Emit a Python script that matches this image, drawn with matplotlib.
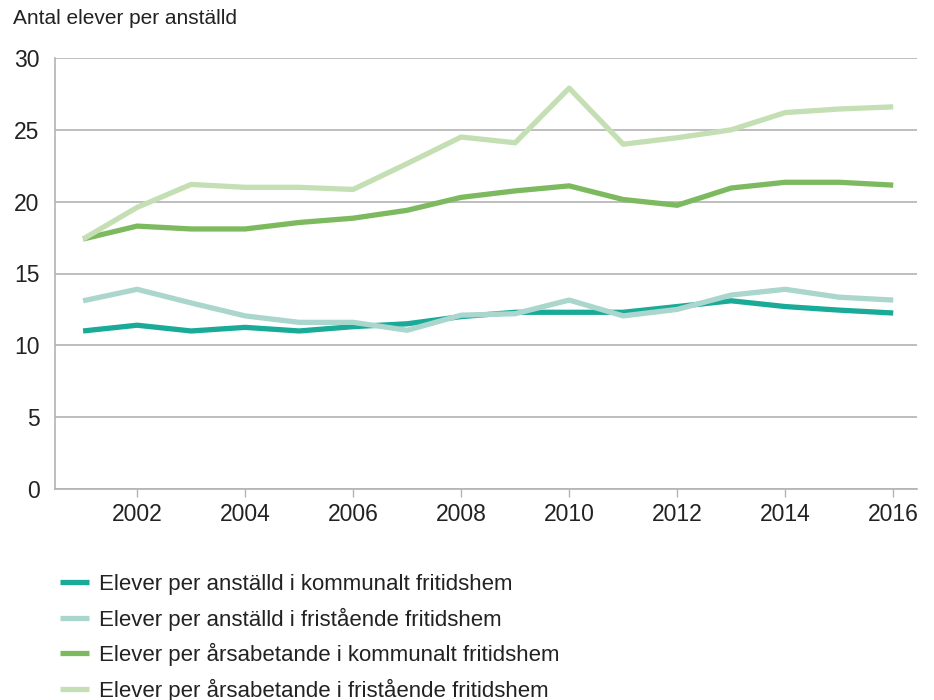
import matplotlib
matplotlib.use("Agg")
import matplotlib.pyplot as plt

plt.rcParams['font.family'] = ['Liberation Sans', 'DejaVu Sans']

years = list(range(2001, 2017))

# elever per anställd / årsarbetande
anstalld_kommunal = [11.0, 11.4, 11.0, 11.25, 11.0, 11.3, 11.5, 12.0, 12.3, 12.3, 12.3, 12.7, 13.1, 12.7, 12.45, 12.25]
anstalld_fristaende = [13.1, 13.9, 12.95, 12.05, 11.6, 11.6, 11.05, 12.1, 12.2, 13.15, 12.05, 12.5, 13.5, 13.9, 13.35, 13.15]
arsab_kommunal = [17.4, 18.3, 18.1, 18.1, 18.55, 18.85, 19.4, 20.3, 20.75, 21.1, 20.15, 19.75, 20.95, 21.35, 21.35, 21.15]
arsab_fristaende = [17.4, 19.6, 21.2, 21.0, 21.0, 20.85, 22.65, 24.5, 24.1, 27.9, 24.0, 24.45, 25.0, 26.2, 26.45, 26.6]

labels = [
    "Elever per anställd i kommunalt fritidshem",
    "Elever per anställd i fristående fritidshem",
    "Elever per årsabetande i kommunalt fritidshem",
    "Elever per årsabetande i fristående fritidshem",
]
colors = ["#1aab98", "#aad6cd", "#7dba5f", "#c4dfb3"]

series = [anstalld_kommunal, anstalld_fristaende, arsab_kommunal, arsab_fristaende]

fig = plt.figure(figsize=(9.34, 7.0), dpi=100)
ax = fig.add_axes([55/934, 1 - 489/700, (917 - 55)/934, (489 - 58)/700])

lines = []
for vals, lab, col in zip(series, labels, colors):
    ln, = ax.plot(years, vals, color=col, lw=3.8, label=lab, solid_capstyle='butt')
    lines.append(ln)
# the light lines sit on top in the original
lines[1].set_zorder(3)
lines[3].set_zorder(3)

ax.set_xlim(2000.48, 2016.44)
ax.set_ylim(0, 30)
ax.set_yticks([0, 5, 10, 15, 20, 25, 30])
ax.set_xticks(range(2002, 2017, 2))

ax.yaxis.grid(True, color="#b3b3b3", lw=1.2)
ax.set_axisbelow(True)
for s in ["top", "right"]:
    ax.spines[s].set_visible(False)
for s in ["left", "bottom"]:
    ax.spines[s].set_color("#b3b3b3")
    ax.spines[s].set_linewidth(1.2)

ax.tick_params(axis='y', length=0, pad=11, labelsize=16.5, labelcolor="#222222")
ax.tick_params(axis='x', length=6, width=1, color="#b3b3b3", pad=4, labelsize=16.5, labelcolor="#222222")

fig.text(13/934, 1 - 19/700, "Antal elever per anställd", fontsize=15, color="#222222",
         ha='left', va='center')

fig.legend(handles=lines, labels=labels, loc='upper left', bbox_to_anchor=(60/934, 1 - 574/700),
           frameon=False, fontsize=16, handlelength=1.3, handletextpad=0.45,
           labelspacing=0.56, borderpad=0, borderaxespad=0, labelcolor="#222222")

fig.savefig("out.png", dpi=100)
